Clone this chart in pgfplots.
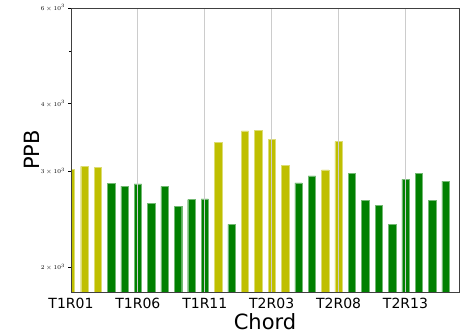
\documentclass[border=0pt]{standalone}
\usepackage{fontspec}
\setmainfont{DejaVu Sans}
\usepackage{pgfplots}
\pgfplotsset{compat=1.18}
\definecolor{myyellow}{RGB}{191,191,0}
\definecolor{mygreen}{RGB}{0,128,0}
\begin{document}
\begin{tikzpicture}
\begin{axis}[
  scale only axis, width=388pt, height=284pt,
  xmin=0, xmax=29,
  ymode=log, ymin=1800, ymax=6000,
  xtick={0,5,10,15,20,25},
  xticklabels={T1R01,T1R06,T1R11,T2R03,T2R08,T2R13},
  xmajorgrids, major x grid style={color=black!20, line width=1pt},
  ytick={2000,3000,4000,6000},
  yticklabels={$2\times10^{3}$,$3\times10^{3}$,$4\times10^{3}$,$6\times10^{3}$},
  minor ytick={5000},
  ytick pos=left,
  yticklabel style={font=\fontsize{6}{7}\selectfont},
  xticklabel style={font=\fontsize{14}{16}\selectfont},
  x tick style={draw=none},
  y tick style={black, line width=0.4pt},
  tick align=outside, major tick length=2.5pt, minor tick length=1.5pt,
  xlabel={Chord}, ylabel={PPB},
  label style={font=\fontsize{21}{24}\selectfont},
  xlabel style={at={(axis description cs:0.5,-0.105)},anchor=center},
  ylabel style={at={(axis description cs:-0.1,0.5)},anchor=center},
  axis line style={black!75, line width=0.8pt},
  axis on top,
]
\addplot[ybar, bar shift=0pt, bar width=0.55, fill=myyellow, draw=myyellow!55!white, line width=0.4pt]
  coordinates {(0,3026)(1,3064)(2,3055)(11,3392)(13,3563)(14,3568)(15,3440)(16,3082)(19,3021)(20,3406)};
\addplot[ybar, bar shift=0pt, bar width=0.55, fill=mygreen, draw=mygreen!55!white, line width=0.4pt]
  coordinates {(3,2853)(4,2820)(5,2848)(6,2624)(7,2816)(8,2591)(9,2662)(10,2670)(12,2398)(17,2860)(18,2946)(21,2976)(22,2654)(23,2600)(24,2398)(25,2901)(26,2976)(27,2654)(28,2881)};
\end{axis}
\pgfresetboundingbox
\path ([shift={(-71pt,-42pt)}]current axis.south west) rectangle ([shift={(8pt,8pt)}]current axis.north east);
\end{tikzpicture}
\end{document}
